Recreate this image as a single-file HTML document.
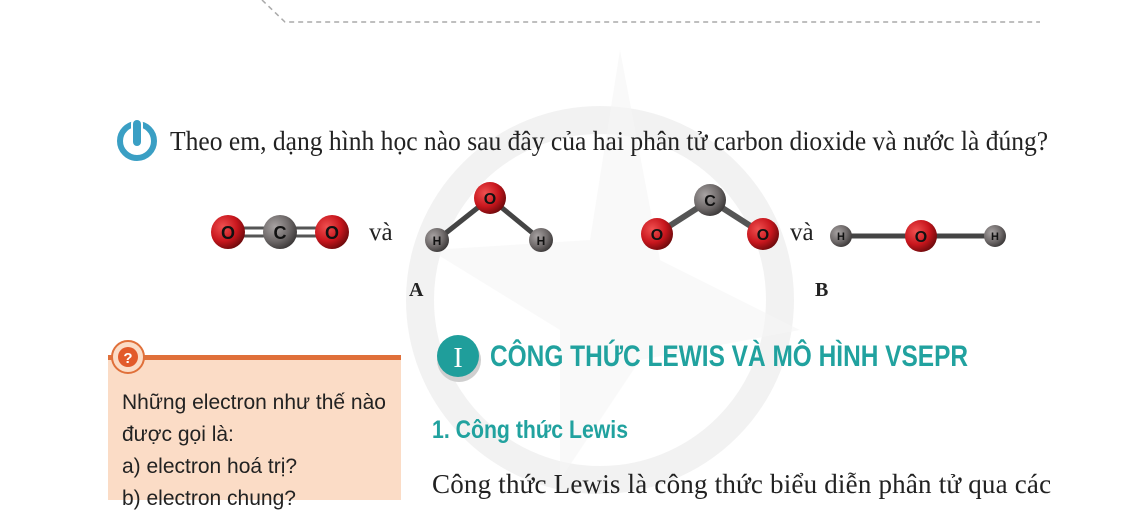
<!DOCTYPE html>
<html><head><meta charset="utf-8"><style>
body{margin:0;width:1140px;height:500px;overflow:hidden;background:#fff;position:relative;font-family:"Liberation Sans",sans-serif}
.a{position:absolute;white-space:nowrap}
.serif{font-family:"Liberation Serif",serif;color:#222}
.teal{color:#21a29f;font-weight:bold;font-family:"Liberation Sans Narrow","Liberation Sans",sans-serif}
</style></head><body>
<svg class="a" style="left:0;top:0" width="1140" height="500">
  <defs>
    <radialGradient id="ro" cx="35%" cy="35%" r="70%"><stop offset="0" stop-color="#f05050"/><stop offset="0.6" stop-color="#c8161d"/><stop offset="1" stop-color="#6e0a0c"/></radialGradient>
    <radialGradient id="gc" cx="35%" cy="35%" r="70%"><stop offset="0" stop-color="#a8a3a3"/><stop offset="0.6" stop-color="#6f6a6a"/><stop offset="1" stop-color="#3b3838"/></radialGradient>
  </defs>
  <g opacity="0.09" fill="none" stroke="#777">
    <circle cx="600" cy="300" r="180" stroke-width="28"/>
    <path d="M620 50 L660 260 L800 330 L640 360 L560 480 L560 330 L430 250 L590 240 Z" fill="#999" stroke="none" opacity="0.6"/>
  </g>
  <path d="M262 0 L285 22 L1040 22" stroke="#aaa" stroke-width="1.5" stroke-dasharray="5,4" fill="none"/>
  <g>
    <circle cx="137" cy="141" r="17" fill="none" stroke="#3a9fc4" stroke-width="6"/>
    <rect x="131" y="118" width="12" height="30" rx="5" fill="#fff"/>
    <rect x="133" y="120" width="8" height="26" rx="4" fill="#3a9fc4"/>
  </g>
  <g>
    <line x1="228" y1="228" x2="332" y2="228" stroke="#555" stroke-width="3"/>
    <line x1="228" y1="236" x2="332" y2="236" stroke="#555" stroke-width="3"/>
    <circle cx="228" cy="232" r="17" fill="url(#ro)"/><circle cx="280" cy="232" r="17" fill="url(#gc)"/><circle cx="332" cy="232" r="17" fill="url(#ro)"/>
    <line x1="437" y1="240" x2="490" y2="198" stroke="#444" stroke-width="5"/>
    <line x1="541" y1="240" x2="490" y2="198" stroke="#444" stroke-width="5"/>
    <circle cx="437" cy="240" r="12" fill="url(#gc)"/><circle cx="541" cy="240" r="12" fill="url(#gc)"/><circle cx="490" cy="198" r="16" fill="url(#ro)"/>
  </g>
  <g>
    <line x1="710" y1="200" x2="657" y2="234" stroke="#555" stroke-width="6"/>
    <line x1="710" y1="200" x2="763" y2="234" stroke="#555" stroke-width="6"/>
    <circle cx="710" cy="200" r="16" fill="url(#gc)"/><circle cx="657" cy="234" r="16" fill="url(#ro)"/><circle cx="763" cy="234" r="16" fill="url(#ro)"/>
    <line x1="841" y1="236" x2="995" y2="236" stroke="#444" stroke-width="5"/>
    <circle cx="841" cy="236" r="11" fill="url(#gc)"/><circle cx="921" cy="236" r="16" fill="url(#ro)"/><circle cx="995" cy="236" r="11" fill="url(#gc)"/>
  </g>
  <g font-family="Liberation Sans" font-weight="bold" fill="#111" text-anchor="middle">
    <text x="228" y="239" font-size="18">O</text><text x="280" y="239" font-size="18">C</text><text x="332" y="239" font-size="18">O</text>
    <text x="437" y="245" font-size="12">H</text><text x="490" y="204" font-size="16">O</text><text x="541" y="245" font-size="12">H</text>
    <text x="710" y="206" font-size="16">C</text><text x="657" y="240" font-size="16">O</text><text x="763" y="240" font-size="16">O</text>
    <text x="841" y="240" font-size="11">H</text><text x="921" y="242" font-size="16">O</text><text x="995" y="240" font-size="11">H</text>
  </g>
  <rect x="108" y="359" width="293" height="141" fill="#fbdcc6"/>
  <rect x="108" y="355" width="293" height="5" fill="#e0703a"/>
  <circle cx="128" cy="357" r="16" fill="#fbdcc6" stroke="#e0703a" stroke-width="2"/>
  <circle cx="128" cy="357" r="10" fill="#e25a2a"/>
  <text x="128" y="363" font-size="15" font-weight="bold" fill="#fff" text-anchor="middle" font-family="Liberation Sans">?</text>
  <circle cx="459" cy="360" r="22" fill="#cfcfcf"/>
  <circle cx="458" cy="356" r="21" fill="#1f9e9b"/>
  <text x="458" y="367" font-size="28" fill="#fff" text-anchor="middle" font-family="Liberation Serif">I</text>
</svg>
<div class="a serif" style="left:170px;top:126px;font-size:27px;transform-origin:0 0;transform:scaleX(0.946)">Theo em, dạng hình học nào sau đây của hai phân tử carbon dioxide và nước là đúng?</div>
<div class="a serif" style="left:369px;top:219px;font-size:25px">và</div>
<div class="a serif" style="left:790px;top:219px;font-size:25px">và</div>
<div class="a serif" style="left:409px;top:279px;font-size:20px;font-weight:bold">A</div>
<div class="a serif" style="left:815px;top:279px;font-size:20px;font-weight:bold">B</div>
<div class="a teal" style="left:490px;top:340px;font-size:30px;transform-origin:0 0;transform:scaleX(0.815)">CÔNG THỨC LEWIS VÀ MÔ HÌNH VSEPR</div>
<div class="a teal" style="left:432px;top:416px;font-size:25px;transform-origin:0 0;transform:scaleX(0.85)">1. Công thức Lewis</div>
<div class="a serif" style="left:432px;top:469px;font-size:27px;letter-spacing:0.2px">Công thức Lewis là công thức biểu diễn phân tử qua các</div>
<div class="a" style="left:122px;top:387px;font-size:21px;color:#222;line-height:32px">Những electron như thế nào<br>được gọi là:<br>a) electron hoá trị?<br>b) electron chung?</div>
</body></html>
